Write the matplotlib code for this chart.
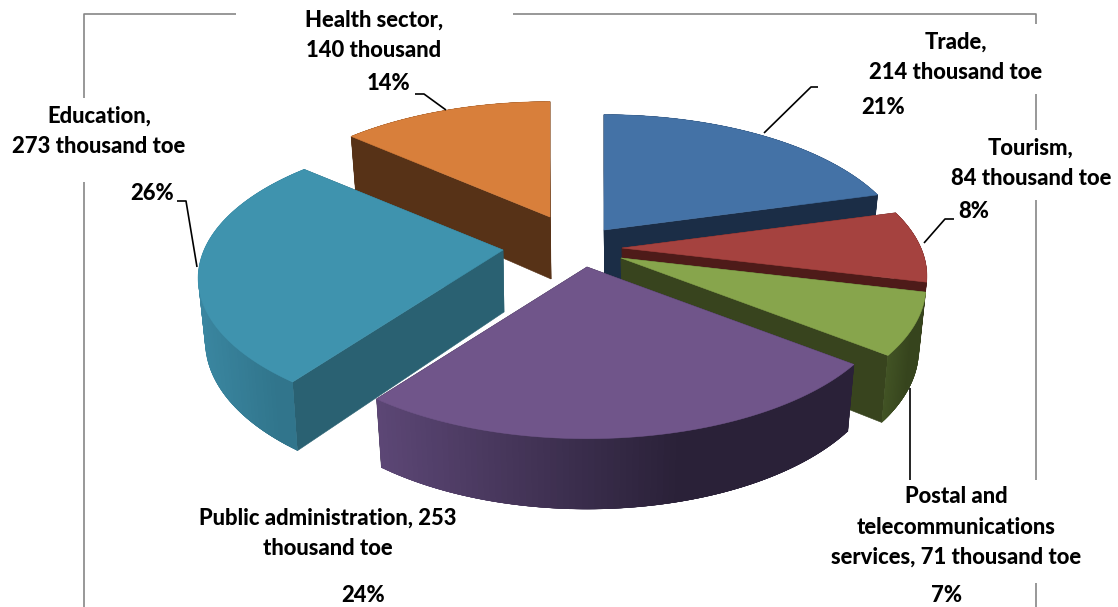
import numpy as np
import matplotlib
matplotlib.use("Agg")
import matplotlib.pyplot as plt
from matplotlib.collections import PolyCollection
from matplotlib.colors import to_rgb

# thousand toe by sector, clockwise from twelve o'clock
sectors = ["Trade", "Tourism", "Postal", "Public", "Education", "Health"]
values = [214, 84, 71, 253, 273, 140]

value_labels = [
    "Trade,\n214 thousand toe",
    "Tourism,\n84 thousand toe",
    "Postal and\ntelecommunications\nservices, 71 thousand toe",
    "Public administration, 253\nthousand toe",
    "Education,\n273 thousand toe",
    "Health sector,\n140 thousand",
]

# pie projection, in pixels
RX, RY = 299, 138
PERSP = 0.196
DEPTH = 62
BASE_SHRINK = 0.977

# each slice's tip after explosion
apex = [(604, 230), (622, 248), (621, 258), (587, 267), (503, 250), (550, 217)]

top_col = ["#4472a6", "#a5423f", "#87a54c", "#70558a", "#3f93ae", "#d87f3b"]
cut_col = ["#1b2d46", "#4e1b19", "#38441e", "#2a2138", "#2a6172", "#573217"]
rim_left = ["#1b2d46", "#4e1b19", "#435525", "#5e4878", "#3a86a0", "#573217"]
rim_right = ["#1b2d46", "#4e1b19", "#36441d", "#2a2138", "#31758c", "#573217"]

label_pos = [(956, 57), (1031, 163), (956, 527), (328, 533), (99, 131), (374, 35)]
pct_pos = [(883, 107), (974, 212), (947, 595), (363, 595), (152, 193), (389, 83)]

leaders = [
    [(764, 133), (811, 87), (818, 87)],
    [(924, 243), (945, 219), (954, 219)],
    [(910, 388), (910, 480)],
    [(177, 201), (186, 201), (197, 267)],
    [(415, 94), (424, 94), (446, 110)],
]

frame = [
    [(84, 607), (84, 182)],
    [(84, 98), (84, 14), (236, 14)],
    [(513, 14), (1036, 14), (1036, 24)],
    [(1036, 94), (1036, 130)],
    [(1036, 200), (1036, 480)],
    [(1036, 583), (1036, 607)],
]

plt.rcParams["font.family"] = ["Lato", "DejaVu Sans"]

fig = plt.figure(figsize=(11.18, 6.07), dpi=100)
ax = fig.add_axes([0, 0, 1, 1])
ax.set_xlim(0, 1118)
ax.set_ylim(607, 0)
ax.axis("off")


def rim(tip, theta):
    # top and bottom outline of a slice for clockwise angles theta
    y_back = np.cos(theta)
    p = 1 / (1 + PERSP * y_back)
    dx = RX * np.sin(theta) * p
    dy = -RY * y_back * p
    top = np.column_stack([tip[0] + dx, tip[1] + dy])
    low = np.column_stack([tip[0] + dx * BASE_SHRINK, tip[1] + dy + DEPTH * p ** 0.6])
    return top, low


def mix(c1, c2, t):
    c1, c2 = np.array(to_rgb(c1)), np.array(to_rgb(c2))
    return tuple(c1 + (c2 - c1) * t)


for seg in frame:
    xs, ys = zip(*seg)
    ax.plot(xs, ys, color="#868686", lw=1.2, solid_capstyle="butt", zorder=1)

total = sum(values)
edges = np.concatenate([[0], np.cumsum(values)]) / total * 2 * np.pi

# painted back to front
for i in [5, 0, 1, 2, 4, 3]:
    theta = np.linspace(edges[i], edges[i + 1], 90)
    tip = apex[i]
    top, low = rim(tip, theta)
    tip_low = (tip[0] + 1, tip[1] + DEPTH)

    # cut faces
    for k in [0, -1]:
        face = [top[k], tip, tip_low, low[k]]
        ax.fill(*zip(*face), color=cut_col[i], lw=0.4, zorder=3)

    # outer wall, shaded in strips that overlap so no seams show
    quads, shades = [], []
    x_min, x_max = low[:, 0].min(), low[:, 0].max()
    last = len(theta) - 1
    order = range(last) if low[0, 0] < low[-1, 0] else range(last - 1, -1, -1)
    for j in order:
        a, b = max(j - 2, 0), min(j + 3, last)
        quads.append([top[a], top[b], low[b], low[a]])
        t = (low[j, 0] - x_min) / (x_max - x_min)
        shades.append(mix(rim_left[i], rim_right[i], min(t * 1.5, 1)))
    ax.add_collection(PolyCollection(quads, facecolors=shades, edgecolors="none", zorder=3))

    outline = np.vstack([[tip], top])
    ax.fill(outline[:, 0], outline[:, 1], color=top_col[i], lw=0.4, zorder=3)

for seg in leaders:
    xs, ys = zip(*seg)
    ax.plot(xs, ys, color="black", lw=1.2, solid_capstyle="butt", zorder=4)

for i, v in enumerate(values):
    ax.text(*label_pos[i], value_labels[i], ha="center", va="center",
            fontsize=15.8, fontweight=900, linespacing=1.55, color="black", zorder=5)
    ax.text(*pct_pos[i], f"{round(v / total * 100)}%", ha="center", va="center",
            fontsize=15.8, fontweight=900, color="black", zorder=5)

fig.savefig("out.png", dpi=100, facecolor="white")
plt.close(fig)
